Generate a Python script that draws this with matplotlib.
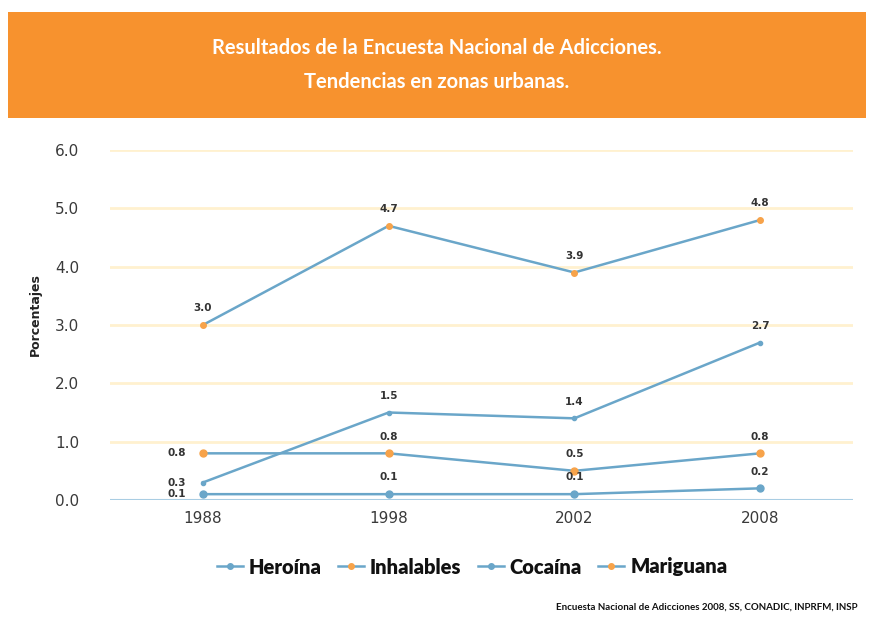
import matplotlib
matplotlib.use('Agg')
import matplotlib.pyplot as plt
from matplotlib.patches import Rectangle

years = ['1988', '1998', '2002', '2008']
heroina = [0.1, 0.1, 0.1, 0.2]
inhalables = [0.8, 0.8, 0.5, 0.8]
cocaina = [0.3, 1.5, 1.4, 2.7]
mariguana = [3.0, 4.7, 3.9, 4.8]
y_ticks = [0.0, 1.0, 2.0, 3.0, 4.0, 5.0, 6.0]

blue = '#6aa6c9'
orange = '#f7a34a'
banner = '#f7922e'

fig = plt.figure(figsize=(8.74, 6.34), dpi=100)
fig.patch.set_facecolor('white')

# orange header band
fig.patches.append(Rectangle((8 / 874, 1 - 118 / 634), 858 / 874, 106 / 634,
                             transform=fig.transFigure, facecolor=banner,
                             edgecolor='none', zorder=0))
fig.text(0.5, 1 - 48 / 634, 'Resultados de la Encuesta Nacional de Adicciones.',
         color='white', ha='center', va='center', fontsize=14.5, fontweight='bold',
         family='Lato')
fig.text(0.5, 1 - 82 / 634, 'Tendencias en zonas urbanas.',
         color='white', ha='center', va='center', fontsize=14.5, fontweight='bold',
         family='Lato')

ax = fig.add_axes([110 / 874, 1 - 500 / 634, 743 / 874, 350 / 634])
x = list(range(len(years)))

series = [
    ('Heroína', heroina, blue, blue, 5),
    ('Inhalables', inhalables, blue, orange, 5),
    ('Cocaína', cocaina, blue, blue, 3),
    ('Mariguana', mariguana, blue, orange, 4),
]
for name, vals, lc, mc, ms in series:
    ax.plot(x, vals, color=lc, lw=1.8, marker='o', ms=ms, mfc=mc, mec=mc,
            clip_on=False, zorder=3)

# value labels
for name, vals, lc, mc, ms in series:
    for i, v in enumerate(vals):
        if i == 0 and name != 'Mariguana':
            off = (-19, 0)
        else:
            off = (0, 12)
        ax.annotate(f'{v:.1f}', (i, v), xytext=off, textcoords='offset points',
                    ha='center', va='center', fontsize=7.5, fontweight='bold',
                    color='#333333')

ax.set_xlim(-0.5, 3.5)
ax.set_ylim(0, 6)
ax.set_yticks(y_ticks)
ax.set_yticklabels([f'{t:.1f}' for t in y_ticks])
ax.set_xticks(x)
ax.set_xticklabels(years)
ax.tick_params(length=0, labelsize=11, colors='#3a3a3a', pad=8)
ax.tick_params(axis='y', pad=22)
for s in ax.spines.values():
    s.set_visible(False)
for t in y_ticks[1:]:
    ax.axhline(t, color='#fff1cf', lw=2, zorder=1)
ax.axhline(0, color='#a9cde3', lw=1.5, zorder=1)

fig.text(35 / 874, 1 - 315 / 634, 'Porcentajes', rotation=90, ha='center', va='center',
         fontsize=9, fontweight='bold', color='#222222')

handles = [plt.Line2D([], [], color=lc, lw=1.8, marker='o', ms=4, mfc=mc, mec=mc)
           for name, vals, lc, mc, ms in series]
leg = fig.legend(handles, [s[0] for s in series], loc='center', ncol=4,
                 bbox_to_anchor=(472 / 874, 1 - 567 / 634), frameon=False,
                 prop={'family': 'Lato', 'weight': 'heavy', 'size': 14.5},
                 handlelength=1.3, handletextpad=0.3, columnspacing=0.8)
for t in leg.get_texts():
    t.set_color('#111111')

fig.text(858 / 874, 1 - 607 / 634,
         'Encuesta Nacional de Adicciones 2008, SS, CONADIC, INPRFM, INSP',
         ha='right', va='center', fontsize=7, fontweight='bold', color='#111111',
         family='Lato')

fig.savefig('out.png', dpi=100)
